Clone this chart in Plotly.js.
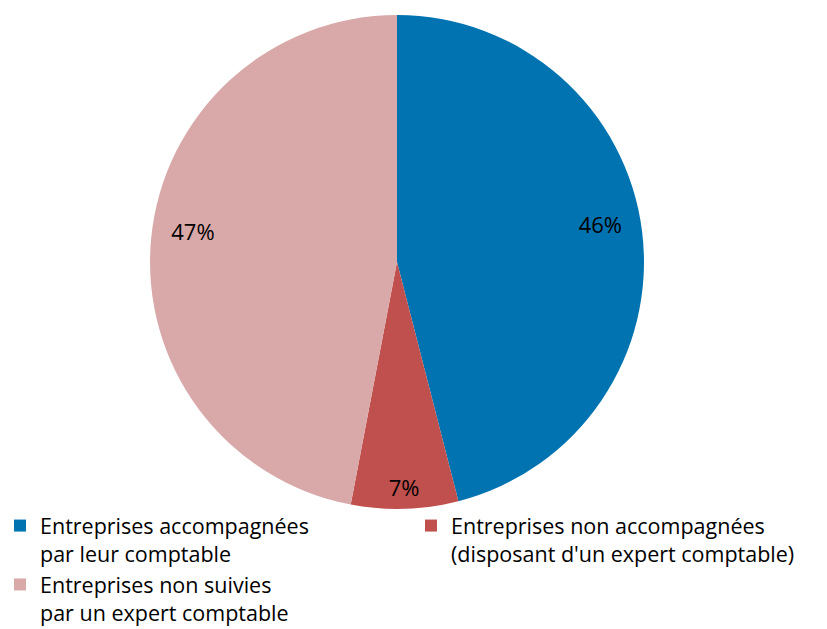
<!DOCTYPE html>
<html>
<head>
<meta charset="utf-8">
<script src="https://cdn.plot.ly/plotly-3.0.1.min.js"></script>
<style>html,body{margin:0;padding:0;background:#fff;}#chart{width:827px;height:629px;}</style>
</head>
<body>
<div id="chart"></div>
<script>
const labels = [
  "Entreprises accompagnées<br>par leur comptable",
  "Entreprises non accompagnées<br>(disposant d'un expert comptable)",
  "Entreprises non suivies<br>par un expert comptable"
];
const values = [46, 7, 47];
const colors = ["#0073B0", "#C0504D", "#D9A9A9"];

const domain = {x: [0.1814, 0.7787], y: [0.1908, 0.9762]};
const clear = ["rgba(0,0,0,0)", "rgba(0,0,0,0)", "rgba(0,0,0,0)"];
const pct = "%{percent:.0%}";

const slices = {
  type: "pie",
  labels: labels,
  values: values,
  sort: false,
  direction: "clockwise",
  rotation: 0,
  marker: {colors: colors, line: {width: 0}},
  textinfo: "none",
  hoverinfo: "label+percent",
  domain: domain
};

// transparent rings used only to place the percentage labels near the rim
function labelRing(hole, dom, template) {
  return {
    type: "pie",
    labels: labels,
    values: values,
    sort: false,
    direction: "clockwise",
    rotation: 0,
    hole: hole,
    showlegend: false,
    marker: {colors: clear, line: {width: 0}},
    texttemplate: template,
    textposition: "inside",
    insidetextorientation: "horizontal",
    textfont: {family: "'Open Sans', sans-serif", size: 22, color: "#000"},
    hoverinfo: "skip",
    domain: dom
  };
}

const ringLarge = labelRing(0.66, {x: domain.x, y: [domain.y[0] + 0.019, domain.y[1] + 0.019]}, [pct, " ", pct]);
const ringSmall = labelRing(0.82, domain, [" ", pct, " "]);

const layout = {
  width: 827, height: 629,
  margin: {l: 0, r: 0, t: 0, b: 0, autoexpand: false},
  paper_bgcolor: "#fff",
  showlegend: true,
  legend: {
    orientation: "h",
    x: 0, xanchor: "left",
    y: 0.197, yanchor: "top",
    valign: "top",
    bgcolor: "rgba(0,0,0,0)",
    entrywidth: 366, entrywidthmode: "pixels",
    font: {family: "'Open Sans', sans-serif", size: 21.5, color: "#000"},
    itemclick: false, traceorder: "normal",
    tracegroupgap: 0
  }
};

Plotly.newPlot("chart", [slices, ringLarge, ringSmall], layout, {displayModeBar: false, staticPlot: true});
</script>
</body>
</html>
